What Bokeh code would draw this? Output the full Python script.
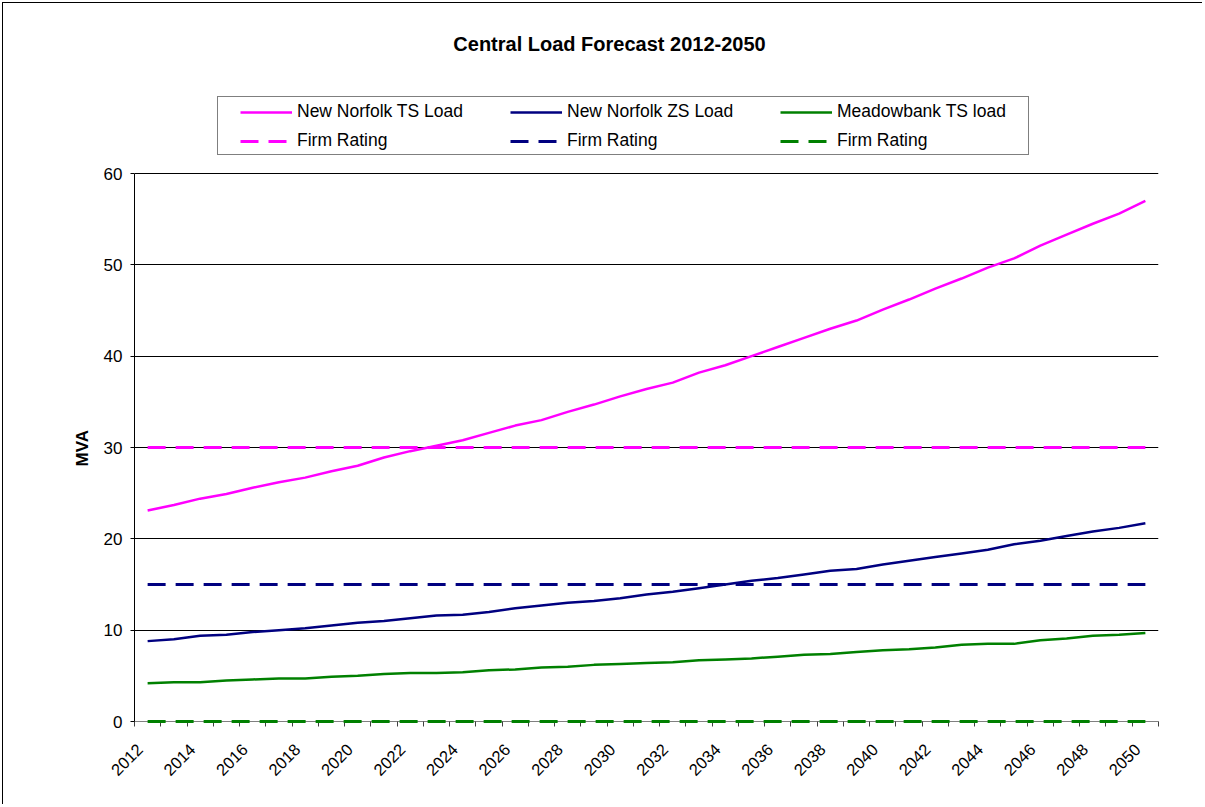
import math

from bokeh.core.properties import value
from bokeh.embed import file_html
from bokeh.models import (CustomJSTickFormatter, FixedTicker, Label, Legend,
                          LegendItem, Range1d, Title)
from bokeh.plotting import figure
from bokeh.resources import INLINE

# ---- data -------------------------------------------------------------
years = list(range(2012, 2051))

nn_ts_load = [23.1, 23.7, 24.4, 24.9, 25.6, 26.2, 26.7, 27.4, 28.0, 28.9,
              29.6, 30.2, 30.8, 31.6, 32.4, 33.0, 33.9, 34.7, 35.6, 36.4,
              37.1, 38.2, 39.0, 40.0, 41.0, 42.0, 43.0, 43.9, 45.1, 46.2,
              47.4, 48.5, 49.7, 50.7, 52.1, 53.3, 54.5, 55.6, 57.0]

nn_zs_load = [8.8, 9.0, 9.4, 9.5, 9.8, 10.0, 10.2, 10.5, 10.8, 11.0,
              11.3, 11.6, 11.7, 12.0, 12.4, 12.7, 13.0, 13.2, 13.5, 13.9,
              14.2, 14.6, 15.0, 15.4, 15.7, 16.1, 16.5, 16.7, 17.2, 17.6,
              18.0, 18.4, 18.8, 19.4, 19.8, 20.3, 20.8, 21.2, 21.7]

mb_ts_load = [4.2, 4.3, 4.3, 4.5, 4.6, 4.7, 4.7, 4.9, 5.0, 5.2,
              5.3, 5.3, 5.4, 5.6, 5.7, 5.9, 6.0, 6.2, 6.3, 6.4,
              6.5, 6.7, 6.8, 6.9, 7.1, 7.3, 7.4, 7.6, 7.8, 7.9,
              8.1, 8.4, 8.5, 8.5, 8.9, 9.1, 9.4, 9.5, 9.7]

# firm ratings (MVA), flat across the forecast horizon
nn_ts_firm = 30
nn_zs_firm = 15
mb_ts_firm = 0

y_ticks = [0, 10, 20, 30, 40, 50, 60]
x_label_years = years[::2]

series_labels = ["New Norfolk TS Load", "New Norfolk ZS Load", "Meadowbank TS load"]
firm_label = "Firm Rating"
title_text = "Central Load Forecast 2012-2050"
y_axis_title = "MVA"

PINK = "#FF00FF"
NAVY = "#000080"
GREEN = "#008000"
FONT = "Liberation Sans"

# ---- layout geometry (pixels) ------------------------------------------
W, H = 1200, 802
BORDER_L, BORDER_R, BORDER_B = 131, 45, 84
PLOT_H = 548                      # height of the value axis (0..60)
frame_h = H - BORDER_B            # frame reaches the top of the canvas
y_top = y_ticks[-1] * frame_h / PLOT_H   # headroom for title and legend
AXIS_TITLE_PX = 17
axis_title_len = 2.222 * AXIS_TITLE_PX   # approx. width of bold "MVA"

# ---- figure -----------------------------------------------------------
p = figure(
    width=W, height=H,
    output_backend="svg", toolbar_location=None,
    x_range=Range1d(years[0] - 0.5, years[-1] + 0.5),
    y_range=Range1d(y_ticks[0], y_top),
    min_border_left=BORDER_L, min_border_right=BORDER_R,
    min_border_top=0, min_border_bottom=BORDER_B,
)
p.styles = {
    "margin-left": "2px",
    "margin-top": "2px",
    "border-left": "1px solid #000000",
    "border-top": "1px solid #000000",
}
p.outline_line_color = None
p.background_fill_color = "white"
p.border_fill_color = "white"

# y axis and horizontal gridlines
p.yaxis.bounds = (y_ticks[0], y_ticks[-1])
p.yaxis.ticker = FixedTicker(ticks=y_ticks)
p.yaxis.axis_line_color = "#000000"
p.yaxis.major_tick_line_color = "#000000"
p.yaxis.major_tick_out = 4
p.yaxis.major_tick_in = 0
p.yaxis.minor_tick_out = 0
p.yaxis.minor_tick_in = 0
p.yaxis.major_label_text_font = FONT
p.yaxis.major_label_text_font_size = "17px"
p.yaxis.major_label_text_color = "#000000"
p.yaxis.major_label_standoff = 8

# value-axis title, centred on the 0..60 span rather than the whole frame
p.add_layout(Title(
    text=y_axis_title, align="left",
    offset=PLOT_H / 2 - axis_title_len / 2, standoff=18,
    text_font=FONT, text_font_size=f"{AXIS_TITLE_PX}px", text_font_style="bold",
    text_color="#000000",
), "left")

p.ygrid.ticker = FixedTicker(ticks=y_ticks)
p.ygrid.grid_line_color = "#000000"
p.ygrid.grid_line_width = 1
p.xgrid.grid_line_color = None

# x axis: tick marks between categories, labels on every second year
# (label anchors sit a little left of the category centre)
boundaries = [y - 0.5 for y in years] + [years[-1] + 0.5]
label_pos = [y - 0.3 for y in x_label_years]
p.xaxis.ticker = FixedTicker(ticks=label_pos, minor_ticks=boundaries)
p.xaxis.formatter = CustomJSTickFormatter(code="return String(Math.round(tick));")
p.xaxis.axis_line_color = "#808080"
p.xaxis.major_tick_out = 0
p.xaxis.major_tick_in = 0
p.xaxis.minor_tick_out = 5
p.xaxis.minor_tick_in = 0
p.xaxis.minor_tick_line_color = "#404040"
p.xaxis.major_label_orientation = math.pi / 4
p.xaxis.major_label_text_font = FONT
p.xaxis.major_label_text_font_size = "16.5px"
p.xaxis.major_label_text_color = "#000000"
p.xaxis.major_label_standoff = 20

# ---- series -----------------------------------------------------------
r_ts = p.line(years, nn_ts_load, line_color=PINK, line_width=2.5)
r_zs = p.line(years, nn_zs_load, line_color=NAVY, line_width=2.5)
r_mb = p.line(years, mb_ts_load, line_color=GREEN, line_width=2.5)

span_x = [years[0], years[-1]]
r_ts_f = p.line(span_x, [nn_ts_firm, nn_ts_firm], line_color=PINK,
                line_width=3, line_dash="18 10")
r_zs_f = p.line(span_x, [nn_zs_firm, nn_zs_firm], line_color=NAVY,
                line_width=3, line_dash="18 10")
r_mb_f = p.line(span_x, [mb_ts_firm, mb_ts_firm], line_color=GREEN,
                line_width=3, line_dash="18 10", level="overlay")

# ---- legend -----------------------------------------------------------
# framed box behind the legend entries
box_ref = p.line(x=[], y=[], line_alpha=0)
legend_box = Legend(
    items=[LegendItem(label=value(" "), renderers=[box_ref])],
    location=(83, 566), orientation="vertical",
    padding=0, margin=0, spacing=0,
    glyph_width=0, glyph_height=57, label_standoff=0,
    label_width=810, label_height=57, label_text_font_size="1px",
    border_line_color="#000000", border_line_width=1,
    background_fill_color="white", background_fill_alpha=1.0,
)
p.add_layout(legend_box, "center")

legend = Legend(
    items=[
        LegendItem(label=value(series_labels[0]), renderers=[r_ts]),
        LegendItem(label=value(firm_label), renderers=[r_ts_f]),
        LegendItem(label=value(series_labels[1]), renderers=[r_zs]),
        LegendItem(label=value(firm_label), renderers=[r_zs_f]),
        LegendItem(label=value(series_labels[2]), renderers=[r_mb]),
        LegendItem(label=value(firm_label), renderers=[r_mb_f]),
    ],
    location=(106, 570), orientation="vertical", ncols=3,
    padding=0, margin=0, spacing=8,
    glyph_width=52, glyph_height=20, label_height=20,
    label_standoff=5, label_width=205,
    label_text_font=FONT, label_text_font_size="17.5px",
    label_text_color="#000000",
    border_line_color=None, background_fill_alpha=0.0,
)
p.add_layout(legend, "center")

# ---- chart title ------------------------------------------------------
p.add_layout(Label(
    x=475, y=678, x_units="screen", y_units="screen",
    text=title_text, text_align="center", text_baseline="middle",
    text_font=FONT, text_font_size="20px", text_font_style="bold",
    text_color="#000000",
))

open("out.html", "w").write(file_html(p, INLINE))
